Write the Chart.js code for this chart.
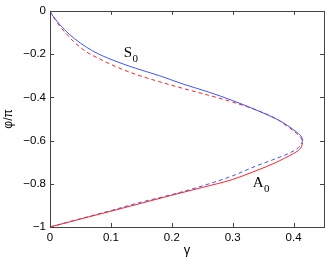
<!DOCTYPE html>
<html>
<head>
<meta charset="utf-8">
<script src="https://cdn.jsdelivr.net/npm/chart.js@4/dist/chart.umd.min.js"></script>
<style>
  html, body { margin: 0; padding: 0; background: #fff; }
  #wrap { width: 327px; height: 259px; }
</style>
</head>
<body>
<div id="wrap"><canvas id="chart"></canvas></div>
<script>
// upper branch (S0)
const upperGamma  = [0, 0.002, 0.008, 0.015, 0.025, 0.04, 0.06, 0.08, 0.11, 0.14, 0.18, 0.22, 0.26, 0.30, 0.34, 0.375, 0.39, 0.40, 0.408, 0.413, 0.415];
const upperBlue   = [0, -0.012, -0.035, -0.06, -0.09, -0.128, -0.168, -0.20, -0.235, -0.265, -0.30, -0.34, -0.375, -0.415, -0.46, -0.505, -0.53, -0.55, -0.568, -0.583, -0.598];
const upperRed    = [0, -0.013, -0.038, -0.067, -0.10, -0.145, -0.19, -0.22, -0.26, -0.293, -0.328, -0.36, -0.39, -0.422, -0.46, -0.505, -0.535, -0.555, -0.575, -0.592, -0.61];
// lower branch (A0)
const lowerRedGamma  = [0.415, 0.413, 0.408, 0.40, 0.385, 0.37, 0.34, 0.30, 0.25, 0.20, 0.15, 0.10, 0.05, 0];
const lowerRed       = [-0.61, -0.628, -0.645, -0.66, -0.682, -0.703, -0.738, -0.78, -0.817, -0.853, -0.89, -0.927, -0.963, -1];
const lowerBlueGamma = [0.415, 0.413, 0.408, 0.40, 0.385, 0.365, 0.34, 0.30, 0.25, 0.20, 0.15, 0.10, 0.05, 0];
const lowerBlue      = [-0.598, -0.615, -0.632, -0.648, -0.668, -0.69, -0.716, -0.763, -0.81, -0.85, -0.885, -0.924, -0.962, -1];

const xTicks = [0, 0.1, 0.2, 0.3, 0.4];
const yTicks = [0, -0.2, -0.4, -0.6, -0.8, -1];

const BLUE = 'rgb(60,85,255)';
const RED = 'rgb(255,35,35)';

function pts(xs, ys) {
    return xs.map((x, i) => ({ x: x, y: ys[i] }));
}

function fmt(v) {
    const s = String(Math.round(v * 10) / 10);
    return s.replace('-', '\u2212');
}

// box with inward ticks on all four sides, plus curve labels
const framePlugin = {
    id: 'frame',
    afterDraw(chart) {
        const ctx = chart.ctx;
        const a = chart.chartArea;
        const xs = chart.scales.x, ys = chart.scales.y;
        ctx.save();
        ctx.strokeStyle = '#444';
        ctx.lineWidth = 1;
        ctx.strokeRect(Math.round(a.left) + 0.5, Math.round(a.top) + 0.5,
            Math.round(a.right - a.left), Math.round(a.bottom - a.top));
        ctx.beginPath();
        xTicks.forEach(v => {
            const px = Math.round(xs.getPixelForValue(v)) + 0.5;
            ctx.moveTo(px, a.bottom); ctx.lineTo(px, a.bottom - 4);
            ctx.moveTo(px, a.top); ctx.lineTo(px, a.top + 4);
        });
        yTicks.forEach(v => {
            const py = Math.round(ys.getPixelForValue(v)) + 0.5;
            ctx.moveTo(a.left, py); ctx.lineTo(a.left + 4, py);
            ctx.moveTo(a.right, py); ctx.lineTo(a.right - 4, py);
        });
        ctx.stroke();

        ctx.fillStyle = '#000';
        ctx.textBaseline = 'alphabetic';
        ctx.textAlign = 'left';
        const label = (txt, gx, gy) => {
            const px = xs.getPixelForValue(gx), py = ys.getPixelForValue(gy);
            ctx.font = '15px "Liberation Serif"';
            ctx.fillText(txt, px, py);
            const w = ctx.measureText(txt).width;
            ctx.font = '11px "Liberation Serif"';
            ctx.fillText('0', px + w + 0.5, py + 5);
        };
        label('S', 0.121, -0.212);
        label('A', 0.333, -0.815);
        ctx.restore();
    }
};

new Chart(document.getElementById('chart'), {
    type: 'scatter',
    data: {
        datasets: [
            { data: pts(upperGamma, upperBlue), borderColor: BLUE, borderWidth: 1, order: 1 },
            { data: pts(upperGamma, upperRed), borderColor: RED, borderWidth: 1, borderDash: [4, 3], order: 2 },
            { data: pts(lowerRedGamma, lowerRed), borderColor: RED, borderWidth: 1, order: 1 },
            { data: pts(lowerBlueGamma, lowerBlue), borderColor: BLUE, borderWidth: 1, borderDash: [4, 3], order: 2 }
        ].map(d => Object.assign(d, { showLine: true, pointRadius: 0, cubicInterpolationMode: 'monotone', fill: false }))
    },
    options: {
        responsive: true,
        maintainAspectRatio: false,
        animation: false,
        events: [],
        layout: { padding: { top: 9, right: 3, left: 0, bottom: 0 } },
        plugins: { legend: { display: false }, tooltip: { enabled: false } },
        scales: {
            x: {
                type: 'linear',
                min: 0,
                max: 0.45,
                grid: { display: false, drawTicks: false },
                border: { display: false },
                afterBuildTicks: s => { s.ticks = xTicks.map(v => ({ value: v })); },
                afterFit: s => { s.height = 32; },
                ticks: {
                    autoSkip: false, maxRotation: 0, padding: 4,
                    color: '#000', font: { family: '"Liberation Sans"', size: 11.5 },
                    callback: v => fmt(v)
                },
                title: {
                    display: true, text: 'γ', color: '#000',
                    font: { family: '"Liberation Sans"', size: 13 },
                    padding: { top: 0, bottom: 1 }
                }
            },
            y: {
                type: 'linear',
                min: -1,
                max: 0,
                grid: { display: false, drawTicks: false },
                border: { display: false },
                afterBuildTicks: s => { s.ticks = yTicks.map(v => ({ value: v })); },
                afterFit: s => { s.width = 50; },
                ticks: {
                    autoSkip: false, padding: 4,
                    color: '#000', font: { family: '"Liberation Sans"', size: 11.5 },
                    callback: v => fmt(v)
                },
                title: {
                    display: true, text: 'φ/π', color: '#000',
                    font: { family: '"Liberation Sans"', size: 12 },
                    padding: { top: 1, bottom: 0 }
                }
            }
        }
    },
    plugins: [framePlugin]
});
</script>
</body>
</html>
